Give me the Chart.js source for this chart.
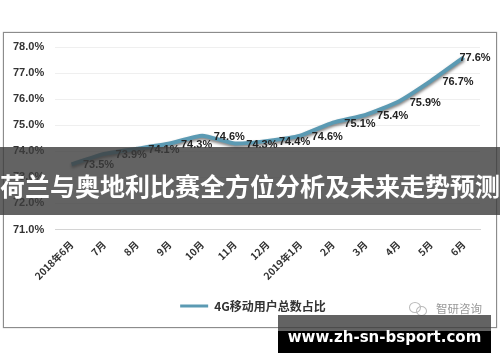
<!DOCTYPE html>
<html>
<head>
<meta charset="utf-8">
<script src="https://cdn.jsdelivr.net/npm/chart.js@4"></script>
<style>
    html, body { margin: 0; padding: 0; background: #fff; }
    #wrap { position: relative; width: 500px; height: 362px; overflow: hidden; }
    #chartBox { position: absolute; left: 0; top: 0; width: 500px; height: 362px; filter: blur(0.5px); }
    #frame { position: absolute; left: 3px; top: 32px; width: 492px; height: 294px; border: 1px solid #8c8c8c; box-shadow: 0 0 1px #999; }
    #band { position: absolute; left: 0; top: 147px; width: 500px; height: 68px; background: rgba(60,60,60,0.8); color: #fff;
        font: bold 25px "Noto Sans CJK SC"; line-height: 76px; text-align: center; white-space: nowrap; }
    #siteTop { position: absolute; left: 278px; top: 315px; width: 213px; height: 16px; background: rgba(60,60,60,0.8); }
    #site { position: absolute; left: 278px; top: 331px; width: 213px; height: 22px; background: #000; }
    #siteText { position: absolute; left: 278px; top: 327px; width: 213px; color: #fff; text-align: center;
        font: bold 15px "DejaVu Sans"; line-height: 20px; white-space: nowrap; }
    #mark { position: absolute; left: 436px; top: 301px; color: #999; font: 11.5px "Noto Sans CJK SC"; line-height: 14px; filter: blur(0.5px); }
    .bubble { position: absolute; border: 1px solid #bbb; border-radius: 50%; filter: blur(0.4px); }
</style>
</head>
<body>
<div id="wrap">
    <div id="chartBox"><canvas id="shareChart" width="500" height="362"></canvas></div>
    <div id="frame"></div>
    <div class="bubble" style="left:409px;top:302px;width:10px;height:9px"></div>
    <div class="bubble" style="left:416px;top:306px;width:9px;height:8px"></div>
    <div id="mark">智研咨询</div>
    <div id="band">荷兰与奥地利比赛全方位分析及未来走势预测</div>
    <div id="siteTop"></div>
    <div id="site"></div>
    <div id="siteText">www.zh-sn-bsport.com</div>
</div>
<script>
// Data
const months = ['2018年6月', '7月', '8月', '9月', '10月', '11月', '12月', '2019年1月', '2月', '3月', '4月', '5月', '6月'];
const shareValues = [73.5, 73.9, 74.1, 74.3, 74.6, 74.3, 74.4, 74.6, 75.1, 75.4, 75.9, 76.7, 77.6];
const seriesName = '4G移动用户总数占比';

const lineColor = '#5b9ab3';
const labelFont = 'bold 11px "Liberation Sans"';

// Label di sebelah kanan titik, titik terakhir mentok di tepi kanan
const valueLabels = {
    id: 'valueLabels',
    afterDatasetsDraw(chart) {
        const ctx = chart.ctx;
        const points = chart.getDatasetMeta(0).data;
        ctx.save();
        ctx.font = labelFont;
        ctx.fillStyle = '#222';
        ctx.textAlign = 'center';
        ctx.textBaseline = 'middle';
        points.forEach((p, i) => {
            ctx.fillText(shareValues[i].toFixed(1) + '%', Math.min(p.x + 27, 475), p.y + 1);
        });
        ctx.restore();
    }
};

// Bayangan di bawah garis
const lineShadow = {
    id: 'lineShadow',
    beforeDatasetDraw(chart) {
        const ctx = chart.ctx;
        ctx.save();
        ctx.shadowColor = 'rgba(40,40,40,0.6)';
        ctx.shadowBlur = 3;
        ctx.shadowOffsetY = 2;
    },
    afterDatasetDraw(chart) {
        chart.ctx.restore();
    }
};

// Geser legend sedikit ke kanan
const legendShift = {
    id: 'legendShift',
    afterLayout(chart) {
        chart.legend.left += 12;
        chart.legend.right += 12;
    }
};

new Chart(document.getElementById('shareChart').getContext('2d'), {
    type: 'line',
    data: {
        labels: months,
        datasets: [{
            label: seriesName,
            data: shareValues,
            borderColor: lineColor,
            backgroundColor: lineColor,
            borderWidth: 4,
            pointRadius: 0,
            tension: 0.15,
        }],
    },
    options: {
        responsive: false,
        animation: false,
        layout: { padding: { left: 2, right: 20, top: 47, bottom: 40 } },
        plugins: {
            tooltip: { enabled: false },
            legend: {
                position: 'bottom',
                labels: {
                    boxWidth: 28,
                    boxHeight: 3,
                    padding: 17,
                    color: '#333',
                    font: { family: '"Noto Sans CJK SC"', size: 12, weight: 'bold' },
                    generateLabels: chart => Chart.defaults.plugins.legend.labels.generateLabels(chart).map(item => ({ ...item, lineWidth: 0 })),
                },
            },
        },
        scales: {
            x: {
                offset: true,
                grid: { display: false },
                border: { color: '#d4d4d4' },
                // label miring jangan mendorong area plot ke kanan
                afterFit: scale => { scale.paddingLeft = 0; scale.paddingRight = 0; },
                ticks: {
                    autoSkip: false,
                    minRotation: 45,
                    maxRotation: 45,
                    padding: 1,
                    color: '#333',
                    font: { family: '"Noto Sans CJK SC"', size: 10, weight: 'bold' },
                },
            },
            y: {
                min: 71,
                max: 78,
                grid: { color: '#efefef', drawTicks: false },
                border: { display: false },
                ticks: {
                    stepSize: 1,
                    padding: 11,
                    color: '#333',
                    font: { family: '"Liberation Sans"', size: 11, weight: 'bold' },
                    callback: v => v.toFixed(1) + '%',
                },
            },
        },
    },
    plugins: [lineShadow, valueLabels, legendShift],
});
</script>
</body>
</html>
